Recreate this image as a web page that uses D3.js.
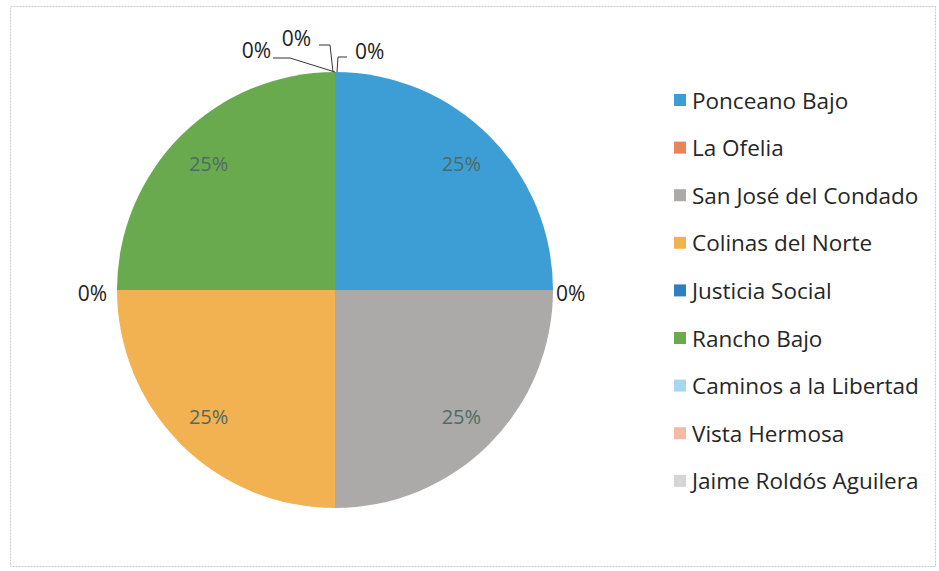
<!DOCTYPE html>
<html>
<head>
<meta charset="utf-8">
<script src="https://cdn.jsdelivr.net/npm/d3@7"></script>
<style>
  html, body { margin: 0; padding: 0; background: #fff; }
  svg { display: block; font-family: "Open Sans", "Noto Sans", sans-serif; }
</style>
</head>
<body>
<svg id="chart" width="939" height="571"></svg>
<script>
// Neighbourhoods and their share of the total
const categories = [
  "Ponceano Bajo", "La Ofelia", "San José del Condado", "Colinas del Norte",
  "Justicia Social", "Rancho Bajo", "Caminos a la Libertad", "Vista Hermosa",
  "Jaime Roldós Aguilera"
];
const values = [25, 0, 25, 25, 0, 25, 0, 0, 0];
const colors = [
  "#3d9ed6", "#e8845a", "#abaaa9", "#f3b252", "#2f7fc1",
  "#6aaa4e", "#a9d6ef", "#f3b9a2", "#d6d6d6"
];

const svg = d3.select("#chart");
const W = 939, H = 571;

// outer frame
svg.append("rect")
  .attr("x", 10.5).attr("y", 6.5).attr("width", W - 14).attr("height", H - 11)
  .attr("fill", "none").attr("stroke", "#c8c8c8").attr("stroke-width", 1)
  .attr("stroke-dasharray", "2,1");

const cx = 335, cy = 290, r = 218;
const g = svg.append("g").attr("transform", `translate(${cx},${cy})`);

const data = categories.map((c, i) => ({ name: c, value: values[i], color: colors[i] }));
const pie = d3.pie().value(d => d.value).sort(null);
const arcs = pie(data);
const arc = d3.arc().innerRadius(0).outerRadius(r);

g.selectAll("path.slice")
  .data(arcs.filter(a => a.data.value > 0))
  .join("path")
  .attr("class", "slice")
  .attr("d", arc)
  .attr("fill", d => d.data.color);

// value labels inside non-zero slices
const inner = d3.arc().innerRadius(r * 0.82).outerRadius(r * 0.82);
g.selectAll("text.pct")
  .data(arcs.filter(a => a.data.value > 0))
  .join("text")
  .attr("class", "pct")
  .attr("x", d => inner.centroid(d)[0])
  .attr("y", d => inner.centroid(d)[1])
  .attr("text-anchor", "middle")
  .attr("dominant-baseline", "central")
  .attr("font-size", 20)
  .attr("fill", "#4f6a63")
  .text(d => d.data.value + "%");

// zero-share labels outside the pie
const zero = arcs.filter(a => a.data.value === 0);
const edgePt = a => {
  const ang = a.startAngle;
  return [Math.sin(ang) * r, -Math.cos(ang) * r];
};
// labels at 3 o'clock and 9 o'clock
zero.filter(a => a.startAngle > 0.1 && a.startAngle < 6.2).forEach(a => {
  const [x, y] = edgePt(a);
  g.append("text")
    .attr("x", x + (x > 0 ? 3 : -10))
    .attr("y", y + 3)
    .attr("text-anchor", x > 0 ? "start" : "end")
    .attr("dominant-baseline", "central")
    .attr("font-size", 21)
    .attr("fill", "#222")
    .text(a.data.value + "%");
});

// the three zero slices that meet at 12 o'clock, each with a leader line
const topZero = zero.filter(a => a.startAngle >= 6.2);
const topLabels = [
  { dx: -64, dy: -240, anchor: "end", line: [[0, -r], [-45, -232], [-62, -232]] },
  { dx: -24, dy: -252, anchor: "end", line: [[-2, -r], [-5, -245], [-16, -245]] },
  { dx: 20, dy: -239, anchor: "start", line: [[2, -r], [3, -233], [12, -233]] }
];
topZero.forEach((a, i) => {
  const L = topLabels[i];
  g.append("path")
    .attr("d", d3.line()(L.line))
    .attr("fill", "none").attr("stroke", "#333").attr("stroke-width", 1);
  g.append("text")
    .attr("x", L.dx)
    .attr("y", L.dy)
    .attr("text-anchor", L.anchor)
    .attr("dominant-baseline", "central")
    .attr("font-size", 21)
    .attr("fill", "#222")
    .text(a.data.value + "%");
});

// legend
const legend = svg.append("g").attr("transform", "translate(674,100)");
const rowH = 47.6;
const item = legend.selectAll("g.item").data(data).join("g")
  .attr("class", "item")
  .attr("transform", (d, i) => `translate(0,${i * rowH})`);
item.append("rect")
  .attr("x", 0).attr("y", -6).attr("width", 12).attr("height", 12)
  .attr("fill", d => d.color);
item.append("text")
  .attr("x", 18).attr("y", 0)
  .attr("dominant-baseline", "central")
  .attr("font-size", 22.5)
  .attr("fill", "#262626")
  .text(d => d.name);
</script>
</body>
</html>
